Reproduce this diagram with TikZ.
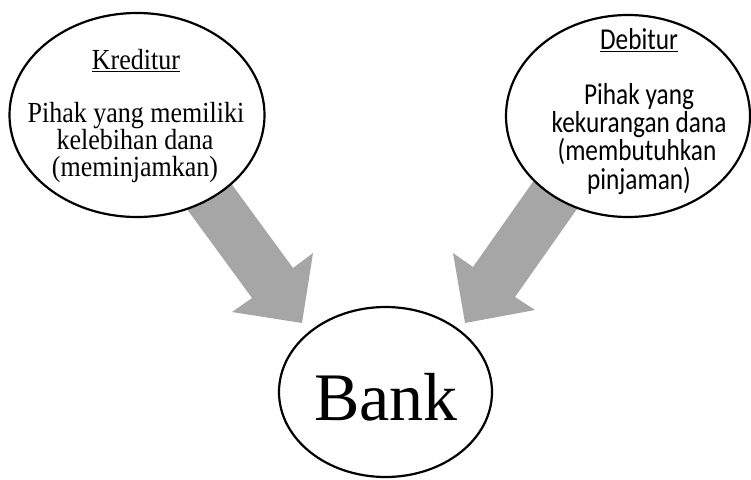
\documentclass[tikz,border=0pt]{standalone}
\usepackage{fontspec}
\setmainfont{Liberation Serif}
\newfontfamily\calfont{Carlito}
\usetikzlibrary{shapes.geometric}
\definecolor{arrowgray}{HTML}{A6A6A6}
\newcommand{\lstretch}[1]{\scalebox{1}[1.12]{#1}}
\newcommand{\rstretch}[1]{\scalebox{1}[1.2]{#1}}
\begin{document}
\begin{tikzpicture}[x=1pt,y=-1pt,
  bubble/.style={ellipse, draw=black, line width=2.2pt, fill=white, inner sep=0pt},
  lefttext/.style={anchor=base, inner sep=0pt, font=\fontsize{26}{27}\selectfont},
  righttext/.style={anchor=base, inner sep=0pt, font=\calfont\fontsize{25.3}{27}\selectfont},
  blockarrow/.style={fill=arrowgray, draw=none}]
\useasboundingbox (0,0) rectangle (751,479);

% left block arrow
\coordinate (la1) at (181,201);
\coordinate (la2) at (252,298);
\coordinate (la3) at (232,312);
\coordinate (ltip) at (302,323);
\coordinate (la5) at (313,253);
\coordinate (la6) at (293,268);
\coordinate (la7) at (222,171);
\fill[blockarrow] (la1) -- (la2) -- (la3) -- (ltip) -- (la5) -- (la6) -- (la7) -- cycle;

% right block arrow
\coordinate (ra1) at (542,169);
\coordinate (ra2) at (473,267);
\coordinate (ra3) at (453,253);
\coordinate (rtip) at (465,323);
\coordinate (ra5) at (535,310);
\coordinate (ra6) at (515,297);
\coordinate (ra7) at (584,199);
\fill[blockarrow] (ra1) -- (ra2) -- (ra3) -- (rtip) -- (ra5) -- (ra6) -- (ra7) -- cycle;

% bubbles
\node[bubble, minimum width=255, minimum height=204] (kred) at (137,115) {};
\node[bubble, minimum width=244, minimum height=202] (debi) at (628,116) {};
\node[bubble, minimum width=213, minimum height=170] (bank) at (385.5,392) {};

% left texts
\node[lefttext] (kt) at (136,69) {\lstretch{\underline{Kreditur}}};
\node[lefttext] (k1) at (136,122.5) {\lstretch{Pihak yang memiliki}};
\node[lefttext] (k2) at (135,149.5) {\lstretch{kelebihan dana}};
\node[lefttext] (k3) at (135,176.5) {\lstretch{(meminjamkan)}};

% right texts
\node[righttext] (dt) at (639,49) {\rstretch{\underline{Debitur}}};
\node[righttext] (d1) at (639,104) {\rstretch{Pihak yang}};
\node[righttext] (d2) at (639,132.5) {\rstretch{kekurangan dana}};
\node[righttext] (d3) at (637,160.5) {\rstretch{(membutuhkan}};
\node[righttext] (d4) at (639,189) {\rstretch{pinjaman)}};

% bank text
\node[anchor=base, inner sep=0pt, font=\fontsize{68}{70}\selectfont] (bt) at (386,420.7) {Bank};
\end{tikzpicture}
\end{document}
